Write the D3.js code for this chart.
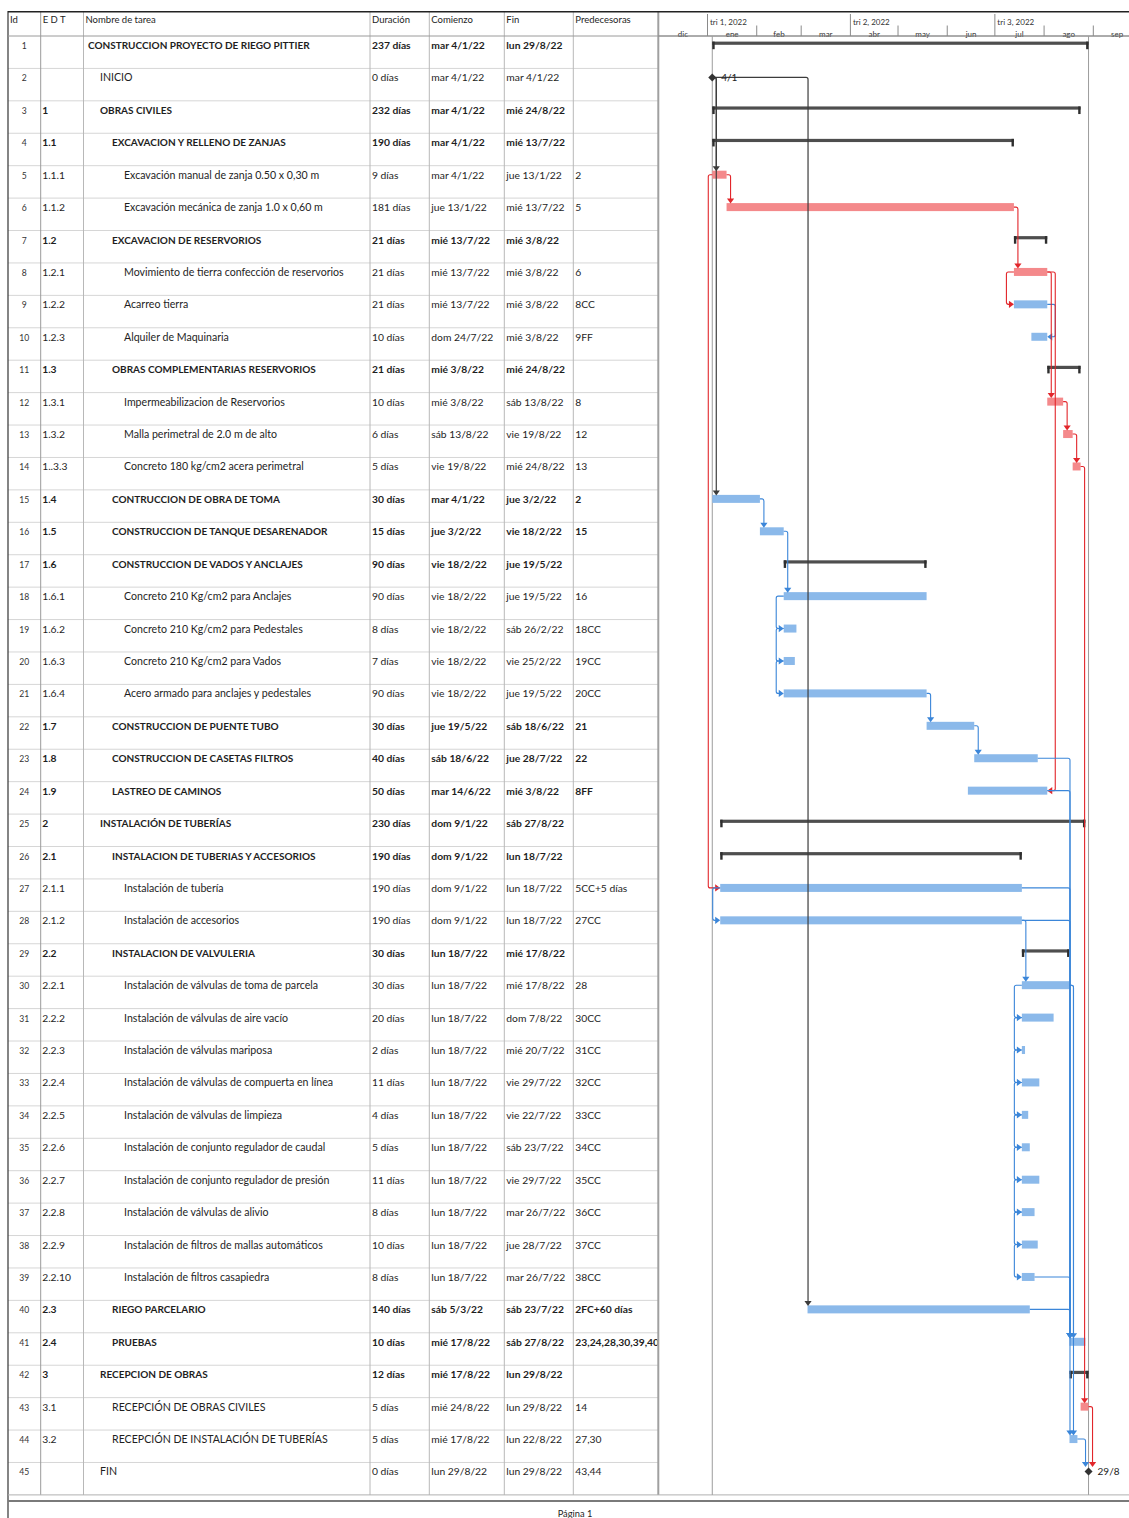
<!DOCTYPE html>
<html>
<head>
<meta charset="utf-8">
<script src="https://cdn.jsdelivr.net/npm/d3@7"></script>
<style>
  html, body { margin: 0; padding: 0; background: #fff; }
  svg { display: block; font-family: Lato, "Open Sans", sans-serif; }
</style>
</head>
<body>
<svg id="chart" width="1129" height="1518"></svg>
<script>
// ---- Project data -------------------------------------------------------
const edt = ["", "", "1", "1.1", "1.1.1", "1.1.2", "1.2", "1.2.1", "1.2.2", "1.2.3",
  "1.3", "1.3.1", "1.3.2", "1..3.3", "1.4", "1.5", "1.6", "1.6.1", "1.6.2", "1.6.3",
  "1.6.4", "1.7", "1.8", "1.9", "2", "2.1", "2.1.1", "2.1.2", "2.2", "2.2.1",
  "2.2.2", "2.2.3", "2.2.4", "2.2.5", "2.2.6", "2.2.7", "2.2.8", "2.2.9", "2.2.10", "2.3",
  "2.4", "3", "3.1", "3.2", ""];

const taskNames = [
  "CONSTRUCCION PROYECTO DE RIEGO PITTIER",
  "INICIO",
  "OBRAS CIVILES",
  "EXCAVACION Y RELLENO DE ZANJAS",
  "Excavación manual de zanja 0.50 x 0,30 m",
  "Excavación mecánica de zanja 1.0 x 0,60 m",
  "EXCAVACION DE RESERVORIOS",
  "Movimiento de tierra confección de reservorios",
  "Acarreo tierra",
  "Alquiler de Maquinaria",
  "OBRAS COMPLEMENTARIAS RESERVORIOS",
  "Impermeabilizacion de Reservorios",
  "Malla perimetral de 2.0 m de alto",
  "Concreto 180 kg/cm2 acera perimetral",
  "CONTRUCCION DE OBRA DE TOMA",
  "CONSTRUCCION DE TANQUE DESARENADOR",
  "CONSTRUCCION DE VADOS Y ANCLAJES",
  "Concreto 210 Kg/cm2 para Anclajes",
  "Concreto 210 Kg/cm2 para Pedestales",
  "Concreto 210 Kg/cm2 para Vados",
  "Acero armado para anclajes y pedestales",
  "CONSTRUCCION DE PUENTE TUBO",
  "CONSTRUCCION DE CASETAS FILTROS",
  "LASTREO DE CAMINOS",
  "INSTALACIÓN DE TUBERÍAS",
  "INSTALACION DE TUBERIAS Y ACCESORIOS",
  "Instalación de tubería",
  "Instalación de accesorios",
  "INSTALACION DE VALVULERIA",
  "Instalación de válvulas de toma de parcela",
  "Instalación de válvulas de aire vacío",
  "Instalación de válvulas mariposa",
  "Instalación de válvulas de compuerta en línea",
  "Instalación de válvulas de limpieza",
  "Instalación de conjunto regulador de caudal",
  "Instalación de conjunto regulador de presión",
  "Instalación de válvulas de alivio",
  "Instalación de filtros de mallas automáticos",
  "Instalación de filtros casapiedra",
  "RIEGO PARCELARIO",
  "PRUEBAS",
  "RECEPCION DE OBRAS",
  "RECEPCIÓN DE OBRAS CIVILES",
  "RECEPCIÓN DE INSTALACIÓN DE TUBERÍAS",
  "FIN"
];

const outlineLevels = [0, 1, 1, 2, 3, 3, 2, 3, 3, 3, 2, 3, 3, 3, 2, 2, 2, 3, 3, 3,
  3, 2, 2, 2, 1, 2, 3, 3, 2, 3, 3, 3, 3, 3, 3, 3, 3, 3, 3, 2, 2, 1, 2, 2, 1];

const durations = ["237 días", "0 días", "232 días", "190 días", "9 días", "181 días",
  "21 días", "21 días", "21 días", "10 días", "21 días", "10 días", "6 días", "5 días",
  "30 días", "15 días", "90 días", "90 días", "8 días", "7 días", "90 días", "30 días",
  "40 días", "50 días", "230 días", "190 días", "190 días", "190 días", "30 días",
  "30 días", "20 días", "2 días", "11 días", "4 días", "5 días", "11 días", "8 días",
  "10 días", "8 días", "140 días", "10 días", "12 días", "5 días", "5 días", "0 días"];

const startLabels = ["mar 4/1/22", "mar 4/1/22", "mar 4/1/22", "mar 4/1/22", "mar 4/1/22",
  "jue 13/1/22", "mié 13/7/22", "mié 13/7/22", "mié 13/7/22", "dom 24/7/22", "mié 3/8/22",
  "mié 3/8/22", "sáb 13/8/22", "vie 19/8/22", "mar 4/1/22", "jue 3/2/22", "vie 18/2/22",
  "vie 18/2/22", "vie 18/2/22", "vie 18/2/22", "vie 18/2/22", "jue 19/5/22", "sáb 18/6/22",
  "mar 14/6/22", "dom 9/1/22", "dom 9/1/22", "dom 9/1/22", "dom 9/1/22", "lun 18/7/22",
  "lun 18/7/22", "lun 18/7/22", "lun 18/7/22", "lun 18/7/22", "lun 18/7/22", "lun 18/7/22",
  "lun 18/7/22", "lun 18/7/22", "lun 18/7/22", "lun 18/7/22", "sáb 5/3/22", "mié 17/8/22",
  "mié 17/8/22", "mié 24/8/22", "mié 17/8/22", "lun 29/8/22"];

const finishLabels = ["lun 29/8/22", "mar 4/1/22", "mié 24/8/22", "mié 13/7/22", "jue 13/1/22",
  "mié 13/7/22", "mié 3/8/22", "mié 3/8/22", "mié 3/8/22", "mié 3/8/22", "mié 24/8/22",
  "sáb 13/8/22", "vie 19/8/22", "mié 24/8/22", "jue 3/2/22", "vie 18/2/22", "jue 19/5/22",
  "jue 19/5/22", "sáb 26/2/22", "vie 25/2/22", "jue 19/5/22", "sáb 18/6/22", "jue 28/7/22",
  "mié 3/8/22", "sáb 27/8/22", "lun 18/7/22", "lun 18/7/22", "lun 18/7/22", "mié 17/8/22",
  "mié 17/8/22", "dom 7/8/22", "mié 20/7/22", "vie 29/7/22", "vie 22/7/22", "sáb 23/7/22",
  "vie 29/7/22", "mar 26/7/22", "jue 28/7/22", "mar 26/7/22", "sáb 23/7/22", "sáb 27/8/22",
  "lun 29/8/22", "lun 29/8/22", "lun 22/8/22", "lun 29/8/22"];

const predecessors = ["", "", "", "", "2", "5", "", "6", "8CC", "9FF", "", "8", "12", "13",
  "2", "15", "", "16", "18CC", "19CC", "20CC", "21", "22", "8FF", "", "", "5CC+5 días",
  "27CC", "", "28", "30CC", "31CC", "32CC", "33CC", "34CC", "35CC", "36CC", "37CC", "38CC",
  "2FC+60 días", "23,24,28,30,39,40", "", "14", "27,30", "43,44"];

const summaryTasks = [1, 3, 4, 7, 11, 17, 25, 26, 29, 42];
const criticalTasks = [5, 6, 8, 12, 13, 14, 43];
const boldTasks = [1, 3, 4, 7, 11, 15, 16, 17, 22, 23, 24, 25, 26, 29, 40, 41, 42];

const columnHeaders = ["Id", "E D T", "Nombre de tarea", "Duración", "Comienzo", "Fin", "Predecesoras"];
const monthLabels = ["dic", "ene", "feb", "mar", "abr", "may", "jun", "jul", "ago", "sep"];
const quarterLabels = ["tri 1, 2022", "tri 2, 2022", "tri 3, 2022"];

// ---- Build task records -------------------------------------------------
const parseDay = d3.timeParse("%d/%m/%y");
const toDate = lbl => parseDay(lbl.split(" ")[1]);

const tasks = taskNames.map((name, i) => {
  const id = i + 1;
  return {
    id, name, edt: edt[i], level: outlineLevels[i],
    duration: durations[i], startLabel: startLabels[i], finishLabel: finishLabels[i],
    pred: predecessors[i],
    start: toDate(startLabels[i]), finish: toDate(finishLabels[i]),
    summary: summaryTasks.includes(id),
    milestone: durations[i] === "0 días",
    critical: criticalTasks.includes(id),
    bold: boldTasks.includes(id)
  };
});

// dependency list from the Predecesoras column (FC, CC, FF)
const links = [];
tasks.forEach(t => {
  if (!t.pred) return;
  t.pred.split(",").forEach(tok => {
    const m = tok.trim().match(/^(\d+)(FC|CC|FF|CF)?/);
    if (m) links.push({ from: +m[1], to: t.id, type: m[2] || "FC" });
  });
});

// ---- Layout -------------------------------------------------------------
const W = 1129;
const TOP = 36, ROW_H = 32.42, N = tasks.length;
const colX = [8, 40.7, 83.5, 370, 429.3, 504.3, 573.3, 658.3];
const tableBottom = TOP + N * ROW_H;

const yRow = d3.scaleLinear().domain([1, N + 1]).range([TOP, tableBottom]);
const x = d3.scaleTime()
  .domain([new Date(2021, 11, 1), new Date(2022, 8, 1)])
  .range([658.3, 1093.3]);

const C = {
  text: "#1e1e1e",
  grid: "#d6d6d6",
  colLine: "#b8b8b8",
  redBar: "#f4898b",
  blueBar: "#8bb9ea",
  summary: "#4e4e4e",
  redLink: "#e2262b",
  blueLink: "#3b86d9",
  darkLink: "#3c3c3c"
};

const svg = d3.select("#chart");
svg.append("rect").attr("width", W).attr("height", 1518).attr("fill", "#fff");

const defs = svg.append("defs");
defs.append("clipPath").attr("id", "clip-pred")
  .append("rect").attr("x", colX[6]).attr("y", -20).attr("width", colX[7] - colX[6] - 1).attr("height", 40);
defs.append("clipPath").attr("id", "clip-gantt")
  .append("rect").attr("x", colX[7] + 1).attr("y", 0).attr("width", W - colX[7]).attr("height", 1518);

// ---- Table grid ---------------------------------------------------------
const grid = svg.append("g");
grid.selectAll("line.row").data(d3.range(2, N + 1)).join("line")
  .attr("x1", colX[0]).attr("x2", colX[7])
  .attr("y1", d => yRow(d)).attr("y2", d => yRow(d))
  .attr("stroke", C.grid).attr("stroke-width", 1);

grid.selectAll("line.col").data(colX.slice(1, 7)).join("line")
  .attr("x1", d => d).attr("x2", d => d)
  .attr("y1", 12).attr("y2", tableBottom)
  .attr("stroke", (d, i) => i === 0 ? "#9a9a9a" : C.colLine).attr("stroke-width", 1);

// table / chart divider
grid.append("line").attr("x1", colX[7]).attr("x2", colX[7]).attr("y1", 12).attr("y2", tableBottom)
  .attr("stroke", "#a0a0a0").attr("stroke-width", 2);

// outer frame lines
grid.append("line").attr("x1", colX[0]).attr("x2", colX[0]).attr("y1", 11).attr("y2", 1518)
  .attr("stroke", "#333").attr("stroke-width", 1.2);
grid.append("line").attr("x1", colX[0]).attr("x2", W).attr("y1", 11.8).attr("y2", 11.8)
  .attr("stroke", "#222").attr("stroke-width", 1.6);
grid.append("line").attr("x1", colX[0]).attr("x2", W).attr("y1", TOP).attr("y2", TOP)
  .attr("stroke", "#9a9a9a").attr("stroke-width", 1);
grid.append("line").attr("x1", colX[0]).attr("x2", W).attr("y1", tableBottom).attr("y2", tableBottom)
  .attr("stroke", "#b0b0b0").attr("stroke-width", 1);
grid.append("line").attr("x1", colX[0]).attr("x2", W).attr("y1", tableBottom + 6).attr("y2", tableBottom + 6)
  .attr("stroke", "#7a7a7a").attr("stroke-width", 2);

// ---- Table header -------------------------------------------------------
svg.append("g").selectAll("text").data(columnHeaders).join("text")
  .attr("x", (d, i) => colX[i] + 2)
  .attr("y", 23)
  .attr("font-size", 9.5)
  .attr("fill", C.text)
  .text(d => d);

// ---- Table body ---------------------------------------------------------
const rows = svg.append("g").selectAll("g.row").data(tasks).join("g")
  .attr("transform", d => `translate(0,${yRow(d.id) + 13})`)
  .attr("font-size", 10.3)
  .attr("fill", C.text);

rows.append("text").attr("x", (colX[0] + colX[1]) / 2).attr("text-anchor", "middle")
  .attr("font-size", 8.6).attr("fill", "#333").text(d => d.id);
rows.append("text").attr("x", colX[1] + 1.5)
  .attr("font-weight", d => d.bold ? 700 : 400).text(d => d.edt);
rows.append("text").attr("x", d => 88 + d.level * 12)
  .attr("font-size", d => d.bold ? 10 : 10.6)
  .attr("font-weight", d => d.bold ? 700 : 400).text(d => d.name);
rows.append("text").attr("x", colX[3] + 2)
  .attr("font-weight", d => d.bold ? 700 : 400).text(d => d.duration);
rows.append("text").attr("x", colX[4] + 2)
  .attr("font-weight", d => d.bold ? 700 : 400).text(d => d.startLabel);
rows.append("text").attr("x", colX[5] + 2)
  .attr("font-weight", d => d.bold ? 700 : 400).text(d => d.finishLabel);
rows.append("text").attr("x", colX[6] + 2).attr("clip-path", "url(#clip-pred)")
  .attr("font-weight", d => d.bold ? 700 : 400).text(d => d.pred);

// ---- Timescale header ---------------------------------------------------
const scale = svg.append("g").attr("clip-path", "url(#clip-gantt)").attr("fill", "#333");
const months = d3.timeMonth.range(new Date(2021, 11, 1), new Date(2022, 9, 1));
const quarters = months.filter(m => m.getMonth() % 3 === 0);

scale.selectAll("line.m").data(months.slice(1)).join("line")
  .attr("x1", d => x(d)).attr("x2", d => x(d))
  .attr("y1", d => d.getMonth() % 3 === 0 ? 14 : 25.5).attr("y2", TOP)
  .attr("stroke", "#8a8a8a").attr("stroke-width", 1);

scale.selectAll("text.m").data(months).join("text")
  .attr("x", d => (x(d) + x(d3.timeMonth.offset(d, 1))) / 2)
  .attr("y", 36.5)
  .attr("text-anchor", "middle")
  .attr("font-size", 8)
  .text((d, i) => monthLabels[i]);

scale.selectAll("text.q").data(quarters).join("text")
  .attr("x", d => x(d) + 2.5)
  .attr("y", 25.3)
  .attr("font-size", 8)
  .text((d, i) => quarterLabels[i]);

// redraw the header bottom rule over the month labels
svg.append("line").attr("x1", colX[7]).attr("x2", W).attr("y1", TOP).attr("y2", TOP)
  .attr("stroke", "#8a8a8a").attr("stroke-width", 1);

// ---- Gantt area ---------------------------------------------------------
const gantt = svg.append("g").attr("clip-path", "url(#clip-gantt)");
const projStart = tasks[0].start, projEnd = tasks[0].finish;

// project start / finish markers
gantt.selectAll("line.proj").data([projStart, projEnd]).join("line")
  .attr("x1", d => x(d)).attr("x2", d => x(d))
  .attr("y1", TOP).attr("y2", tableBottom)
  .attr("stroke", "#9c9c9c").attr("stroke-width", 1);

const barTop = id => yRow(id) + 5;
const midY = id => yRow(id) + 9;
const byId = id => tasks[id - 1];

// task bars
gantt.selectAll("rect.bar").data(tasks.filter(t => !t.summary && !t.milestone)).join("rect")
  .attr("x", d => x(d.start))
  .attr("y", d => barTop(d.id))
  .attr("width", d => Math.max(1, x(d.finish) - x(d.start)))
  .attr("height", 8)
  .attr("fill", d => d.critical ? C.redBar : C.blueBar);

// summary bars with end caps
const sums = gantt.selectAll("g.sum").data(tasks.filter(t => t.summary)).join("g");
sums.append("rect")
  .attr("x", d => x(d.start)).attr("y", d => yRow(d.id) + 5.6)
  .attr("width", d => x(d.finish) - x(d.start)).attr("height", 3.2)
  .attr("fill", C.summary);
sums.selectAll("rect.cap").data(d => [[d.start, d.id, 0], [d.finish, d.id, 1]]).join("rect")
  .attr("x", d => x(d[0]) - (d[2] ? 2.4 : 0)).attr("y", d => yRow(d[1]) + 5.6)
  .attr("width", 2.4).attr("height", 7.6)
  .attr("fill", "#2e2e2e");

// dependency lines
function rounded(pts, r) {
  const p = d3.path();
  p.moveTo(pts[0][0], pts[0][1]);
  for (let i = 1; i < pts.length - 1; i++) p.arcTo(pts[i][0], pts[i][1], pts[i + 1][0], pts[i + 1][1], r);
  p.lineTo(pts[pts.length - 1][0], pts[pts.length - 1][1]);
  return p.toString();
}
function arrow(tx, ty, dir) {
  const a = 3.6, l = 5;
  if (dir === "down") return `M${tx - a},${ty - l}L${tx + a},${ty - l}L${tx},${ty}Z`;
  if (dir === "right") return `M${tx - l},${ty - a}L${tx - l},${ty + a}L${tx},${ty}Z`;
  return `M${tx + l},${ty - a}L${tx + l},${ty + a}L${tx},${ty}Z`;
}

const linkG = gantt.append("g").attr("fill", "none");
links.forEach(l => {
  const p = byId(l.from), s = byId(l.to);
  const color = p.critical ? C.redLink : (p.milestone ? C.darkLink : C.blueLink);
  const yP = midY(p.id);
  let pts, head;
  if (l.type === "FC") {
    const xe = x(p.finish), xs = x(s.start);
    const xv = xe + 4 >= xs ? xe + 4 : xs + (s.milestone ? -3 : 0.5);
    const tipY = s.milestone ? yRow(s.id) + 4.5 : barTop(s.id) + 0.5;
    pts = [[xe, yP], [xv, yP], [xv, tipY - 4]];
    head = arrow(xv, tipY, "down");
  } else if (l.type === "CC") {
    const xp = x(p.start), xs = x(s.start);
    const xv = xp - (xs > xp + 2 ? 4 : 7.5);
    const yS = midY(s.id);
    pts = [[xp, yP], [xv, yP], [xv, yS], [xs - 4, yS]];
    head = arrow(xs, yS, "right");
  } else {
    const xe = x(p.finish), xf = x(s.finish);
    const xv = Math.max(xe, xf) + 8;
    const yS = midY(s.id);
    pts = [[xe, yP], [xv, yP], [xv, yS], [xf + 4, yS]];
    head = arrow(xf, yS, "left");
  }
  linkG.append("path").attr("d", rounded(pts, 2))
    .attr("stroke", color).attr("stroke-width", p.milestone ? 1.2 : 1.1);
  linkG.append("path").attr("d", head).attr("fill", color);
});

// milestones
const ms = gantt.selectAll("g.ms").data(tasks.filter(t => t.milestone)).join("g")
  .attr("transform", d => `translate(${x(d.start)},${midY(d.id)})`);
ms.append("path").attr("d", "M0,-4L4,0L0,4L-4,0Z").attr("fill", "#333");
ms.append("text").attr("x", 9).attr("y", 3.5)
  .attr("font-size", 10).attr("fill", "#222")
  .text(d => `${d.start.getDate()}/${d.start.getMonth() + 1}`);

// ---- Footer -------------------------------------------------------------
svg.append("text").attr("x", 575).attr("y", 1516.5).attr("text-anchor", "middle")
  .attr("font-size", 9.3).attr("fill", C.text).text("Página 1");
</script>
</body>
</html>
